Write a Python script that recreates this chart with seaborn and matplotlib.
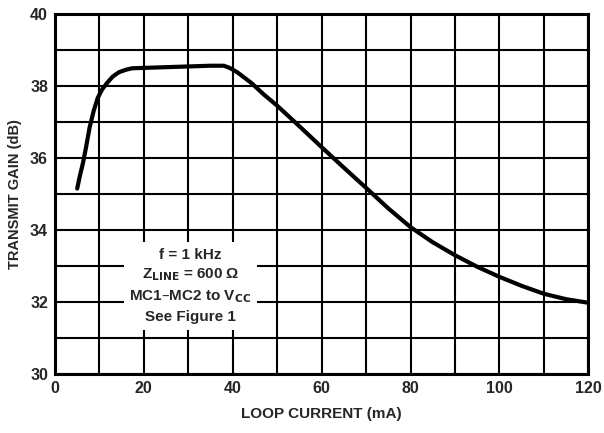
import numpy as np
import matplotlib
matplotlib.use('Agg')
import matplotlib.pyplot as plt
import pandas as pd
import seaborn as sns

# values
loop_current = [5, 5.6, 6.3, 7, 7.8, 8.7, 9.6, 10.6, 11.85, 13, 14.4, 16, 17.4, 20, 25, 30, 35, 38,
                39.3, 41, 42.5, 44.2, 47, 50, 55, 60, 65, 70, 75, 80, 85, 90, 95, 100, 105, 110, 115, 120]
transmit_gain = [35.15, 35.5, 35.86, 36.3, 36.85, 37.3, 37.66, 37.9, 38.1, 38.26, 38.38, 38.45, 38.49, 38.5,
                 38.52, 38.54, 38.56, 38.56, 38.5, 38.38, 38.24, 38.08, 37.76, 37.45, 36.88, 36.3, 35.73,
                 35.17, 34.6, 34.08, 33.66, 33.3, 32.98, 32.7, 32.45, 32.23, 32.08, 31.98]
x_ticks = [0, 20, 40, 60, 80, 100, 120]
y_ticks = [30, 32, 34, 36, 38, 40]
note = ['f = 1 kHz', r'Z$_{\rm LINE}$ = 600 Ω', r'MC1–MC2 to V$_{\rm CC}$', 'See Figure 1']

df = pd.DataFrame({'current': loop_current, 'gain': transmit_gain})

sns.set_theme(style='white')
plt.rcParams['font.family'] = ['Liberation Sans Narrow', 'Liberation Sans', 'DejaVu Sans']
plt.rcParams['mathtext.default'] = 'regular'
plt.rcParams['font.weight'] = 'bold'

fig, ax = plt.subplots(figsize=(6.04, 4.33), dpi=100)
fig.subplots_adjust(left=0.091, right=0.974, top=0.968, bottom=0.136)

sns.lineplot(data=df, x='current', y='gain', color='black', linewidth=3, ax=ax, zorder=3)

ax.set_xlim(0, 120)
ax.set_ylim(30, 40)
ax.set_xticks(x_ticks)
ax.set_yticks(y_ticks)
ax.set_xticks(np.arange(0, 121, 10), minor=True)
ax.set_yticks(np.arange(30, 41, 1), minor=True)
ax.grid(which='both', color='black', linewidth=1.5)
ax.tick_params(which='both', length=0, labelsize=11.5, pad=5)
for lbl in ax.get_xticklabels() + ax.get_yticklabels():
    lbl.set_fontweight('bold')
for s in ax.spines.values():
    s.set_color('black')
    s.set_linewidth(2.2)

ax.set_xlabel('LOOP CURRENT (mA)', fontsize=11, fontweight='bold', labelpad=8)
ax.set_ylabel('TRANSMIT GAIN (dB)', fontsize=10.5, fontweight='bold', labelpad=6)

ax.text(30.5, 32.45, '\n'.join(note), ha='center', va='center', fontsize=11,
        fontweight='bold', linespacing=1.45, zorder=4,
        bbox=dict(facecolor='white', edgecolor='none', pad=4))

fig.savefig('out.png', dpi=100)
